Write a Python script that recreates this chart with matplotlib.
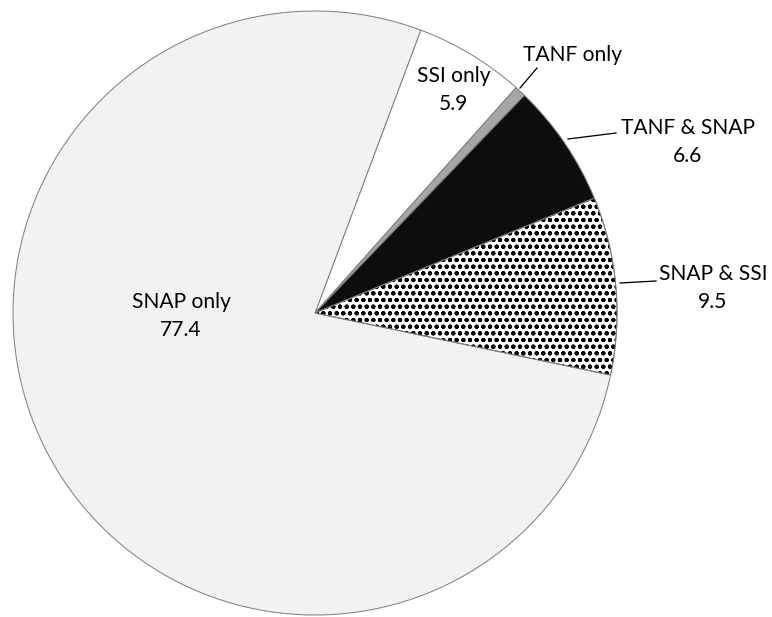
import matplotlib.pyplot as plt
from matplotlib.patches import Wedge

# program participation shares (percent), clockwise from the top
categories = ["SSI only", "TANF only", "TANF & SNAP", "SNAP & SSI", "SNAP only"]
shares = [5.9, 0.6, 6.6, 9.5, 77.4]
show_value = [True, False, True, True, True]

W, H, DPI = 772, 617, 80
PT = 72 / DPI  # pixels -> points

colors = ["#ffffff", "#a6a6a6", "#0d0d0d", "#ffffff", "#f2f2f2"]
plt.rcParams["font.family"] = ["Lato", "DejaVu Sans"]
plt.rcParams["hatch.linewidth"] = 1.6 * PT

fig = plt.figure(figsize=(W / DPI, H / DPI), dpi=DPI)
ax = fig.add_axes([0, 0, 1, 1])

cx, cy, r = 315, H - 313, 302
start = 69.5

wedges, _ = ax.pie(
    shares,
    startangle=start,
    counterclock=False,
    colors=colors,
    center=(cx, cy),
    radius=r,
    wedgeprops=dict(edgecolor="#7f7f7f", linewidth=1.0 * PT),
)

# dotted fill for SNAP & SSI
w = wedges[3]
ax.add_patch(Wedge((cx, cy), r, w.theta1, w.theta2, facecolor="none",
                   edgecolor="black", linewidth=0, hatch="oo", zorder=w.get_zorder() + 0.1))
ax.add_patch(Wedge((cx, cy), r, w.theta1, w.theta2, facecolor="none",
                   edgecolor="#7f7f7f", linewidth=1.0 * PT, zorder=w.get_zorder() + 0.2))

ax.set_xlim(0, W)
ax.set_ylim(0, H)
ax.set_aspect("equal")
ax.axis("off")

# label centres (x, y from top) and leader lines
label_pos = [(454, 90), (573, 55), (688, 142), (713, 288), (181, 316)]
leaders = {
    1: [(537, 68), (520, 88)],
    2: [(568, 139), (616, 133)],
    3: [(620, 283), (656, 281)],
}

fs = 21 * PT
for i, (name, val) in enumerate(zip(categories, shares)):
    txt = f"{name}\n{val}" if show_value[i] else name
    x, y = label_pos[i]
    ax.text(x, H - y, txt, ha="center", va="center", multialignment="center",
            fontsize=fs, linespacing=1.45, color="black", zorder=5)

for i, pts in leaders.items():
    xs = [p[0] for p in pts]
    ys = [H - p[1] for p in pts]
    ax.plot(xs, ys, color="black", linewidth=1.3 * PT, zorder=5)

fig.savefig("out.png", dpi=DPI)
